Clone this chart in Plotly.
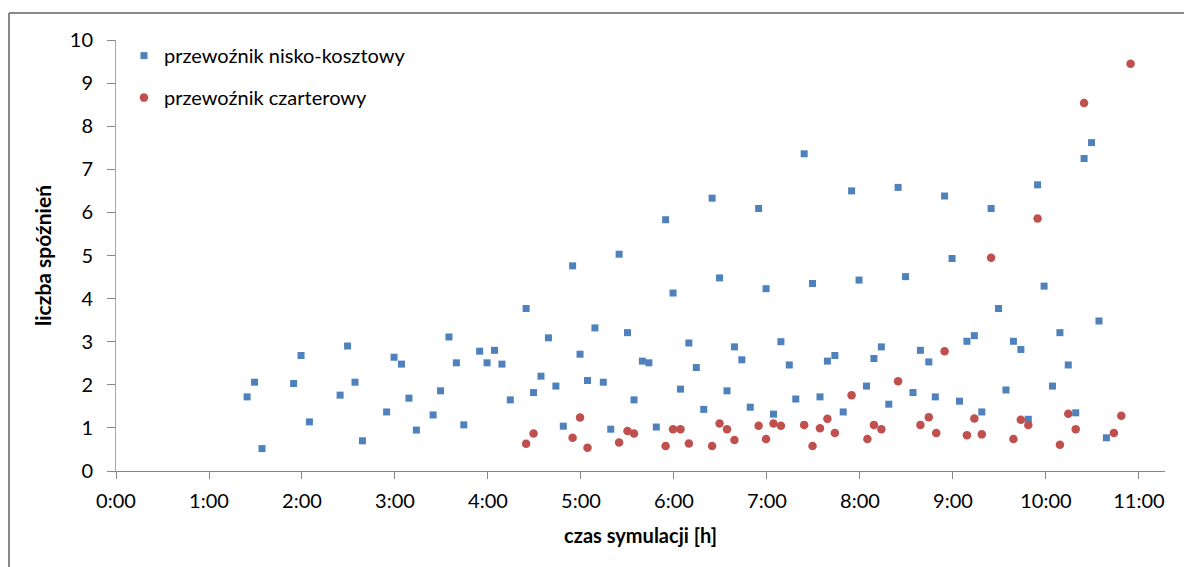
import plotly.graph_objects as go

# Series 1: przewoźnik nisko-kosztowy (time in hours, delays)
low_cost_t = [1.41, 1.49, 1.57, 1.91, 1.99, 2.08, 2.41, 2.49, 2.57, 2.65, 2.91, 2.99, 3.07, 3.15,
              3.23, 3.41, 3.49, 3.58, 3.66, 3.74, 3.91, 3.99, 4.07, 4.15, 4.24, 4.41, 4.49, 4.57,
              4.65, 4.73, 4.81, 4.91, 4.99, 5.07, 5.15, 5.24, 5.32, 5.41, 5.50, 5.57, 5.66, 5.73,
              5.81, 5.91, 5.99, 6.07, 6.16, 6.24, 6.32, 6.41, 6.49, 6.57, 6.65, 6.73, 6.82, 6.91,
              6.99, 7.07, 7.15, 7.24, 7.31, 7.40, 7.49, 7.57, 7.65, 7.73, 7.82, 7.91, 7.99, 8.07,
              8.15, 8.23, 8.31, 8.41, 8.49, 8.57, 8.65, 8.74, 8.81, 8.91, 8.99, 9.07, 9.15, 9.23,
              9.31, 9.41, 9.49, 9.57, 9.65, 9.73, 9.81, 9.91, 9.98, 10.07, 10.15, 10.24, 10.32,
              10.41, 10.49, 10.57, 10.65]
low_cost_v = [1.72, 2.06, 0.52, 2.03, 2.68, 1.14, 1.76, 2.90, 2.06, 0.70, 1.37, 2.64, 2.48, 1.69,
              0.95, 1.30, 1.86, 3.11, 2.51, 1.07, 2.78, 2.51, 2.80, 2.48, 1.65, 3.77, 1.82, 2.20,
              3.09, 1.97, 1.04, 4.76, 2.71, 2.10, 3.32, 2.06, 0.97, 5.03, 3.21, 1.65, 2.55, 2.51,
              1.02, 5.83, 4.13, 1.90, 2.97, 2.40, 1.43, 6.33, 4.48, 1.86, 2.88, 2.58, 1.48, 6.09,
              4.23, 1.32, 3.00, 2.46, 1.67, 7.36, 4.35, 1.72, 2.55, 2.68, 1.37, 6.50, 4.43, 1.97,
              2.61, 2.88, 1.55, 6.58, 4.51, 1.82, 2.80, 2.53, 1.72, 6.38, 4.93, 1.62, 3.01, 3.14,
              1.37, 6.09, 3.77, 1.88, 3.01, 2.82, 1.20, 6.64, 4.29, 1.97, 3.21, 2.46, 1.35,
              7.25, 7.62, 3.48, 0.77]

# Series 2: przewoźnik czarterowy
charter_t = [4.41, 4.49, 4.91, 4.99, 5.07, 5.41, 5.50, 5.57, 5.91, 5.99, 6.07, 6.16, 6.41, 6.49,
             6.57, 6.65, 6.91, 6.99, 7.07, 7.15, 7.40, 7.49, 7.57, 7.65, 7.73, 7.91, 8.08, 8.15,
             8.23, 8.41, 8.65, 8.74, 8.82, 8.91, 9.15, 9.23, 9.31, 9.41, 9.65, 9.73, 9.81, 9.91,
             10.15, 10.24, 10.32, 10.41, 10.73, 10.81, 10.91]
charter_v = [0.63, 0.87, 0.77, 1.24, 0.54, 0.66, 0.93, 0.87, 0.58, 0.97, 0.97, 0.64, 0.58, 1.10,
             0.97, 0.72, 1.05, 0.74, 1.10, 1.05, 1.07, 0.58, 0.99, 1.21, 0.88, 1.76, 0.74, 1.07,
             0.97, 2.08, 1.07, 1.25, 0.88, 2.78, 0.83, 1.22, 0.85, 4.95, 0.74, 1.19, 1.07, 5.86,
             0.61, 1.33, 0.97, 8.54, 0.88, 1.28, 9.45]

x_tick_vals = list(range(12))
x_tick_text = ["0:00", "1:00", "2:00", "3:00", "4:00", "5:00", "6:00", "7:00", "8:00",
               "9:00", "10:00", "11:00"]
y_tick_vals = list(range(11))

series_names = ["przewoźnik nisko-kosztowy", "przewoźnik czarterowy"]
x_title = "czas symulacji [h]"
y_title = "liczba spóźnień"

FONT = "Lato, 'Open Sans', sans-serif"
FS = 20

fig = go.Figure()
fig.add_trace(go.Scatter(
    x=low_cost_t, y=low_cost_v, mode="markers", name=series_names[0],
    legendgroup="a",
    marker=dict(symbol="square", size=7, color="#4F81BD", line=dict(width=0)),
))
fig.add_trace(go.Scatter(
    x=charter_t, y=charter_v, mode="markers", name=series_names[1],
    legendgroup="b",
    marker=dict(symbol="circle", size=8.5, color="#C0504D", line=dict(width=0)),
))

# the page body has an 8px default margin, so the figure is offset by 8px
fig.update_layout(
    width=1184, height=559,
    margin=dict(l=108, r=27, t=32, b=96),
    paper_bgcolor="white", plot_bgcolor="white",
    font=dict(family=FONT, size=FS, color="#000000"),
    showlegend=True,
    legend=dict(
        x=0.0076, y=1.009, xanchor="left", yanchor="top",
        bgcolor="rgba(0,0,0,0)", borderwidth=0,
        font=dict(family=FONT, size=FS, color="#000000"),
        tracegroupgap=13,
    ),
    xaxis=dict(
        range=[0, 11.28], automargin=False,
        tickmode="array", tickvals=x_tick_vals, ticktext=x_tick_text,
        ticks="outside", ticklen=7, tickcolor="#868686", tickwidth=1,
        showline=True, linecolor="#868686", linewidth=1,
        showgrid=False, zeroline=False,
        ticklabelstandoff=5,
        tickfont=dict(family=FONT, size=FS, color="#000000"),
        title=dict(text="<b>" + x_title + "</b>", standoff=17,
                   font=dict(family=FONT, size=FS, color="#000000")),
    ),
    yaxis=dict(
        range=[0, 10], automargin=False,
        tickmode="array", tickvals=y_tick_vals,
        ticks="outside", ticklen=8, tickcolor="#868686", tickwidth=1,
        showline=True, linecolor="#a6a6a6", linewidth=1,
        showgrid=False, zeroline=False,
        ticklabelstandoff=10,
        tickfont=dict(family=FONT, size=FS, color="#000000"),
        title=dict(text="<b>" + y_title + "</b>", standoff=12,
                   font=dict(family=FONT, size=21, color="#000000")),
    ),
    shapes=[
        dict(type="line", xref="paper", yref="paper", x0=-0.102, x1=1.1, y0=1.0626, y1=1.0626,
             line=dict(color="#888888", width=2)),
        dict(type="line", xref="paper", yref="paper", x0=-0.102, x1=-0.102, y0=1.0626, y1=-0.3,
             line=dict(color="#888888", width=2)),
    ],
)

fig.write_html("out.html")
